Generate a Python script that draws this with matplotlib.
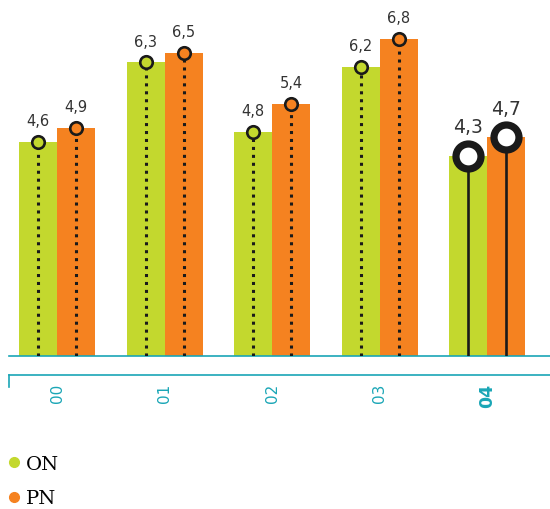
import matplotlib
matplotlib.use("Agg")
import matplotlib.pyplot as plt
from matplotlib.lines import Line2D
import numpy as np

categories = ["00", "01", "02", "03", "04"]
on_values = [4.6, 6.3, 4.8, 6.2, 4.3]
pn_values = [4.9, 6.5, 5.4, 6.8, 4.7]
series_names = ["ON", "PN"]

GREEN = "#c3d82e"
ORANGE = "#f58220"
TEAL = "#1aa6b6"
DARK = "#1a1a1a"

W, H = 550, 510
fig = plt.figure(figsize=(W / 100, H / 100), dpi=100)

# axes: left at x=9px, bottom at y=357px, to top/right
left_px, base_px = 9, 357
ax = fig.add_axes([left_px / W, (H - base_px) / H, 1 - left_px / W, base_px / H])

spacing = 107.5
c0 = 57
xlo = (left_px - c0) / spacing
xhi = (W - c0) / spacing
ax.set_xlim(xlo, xhi)
ax.set_ylim(0, base_px / 46.6)

bw = 38 / spacing
x = np.arange(len(categories))
ax.bar(x - bw / 2, on_values, width=bw, color=GREEN, linewidth=0)
ax.bar(x + bw / 2, pn_values, width=bw, color=ORANGE, linewidth=0)

n = len(categories)
for i in range(n):
    last = (i == n - 1)
    for off, vals, col in ((-bw / 2, on_values, GREEN), (bw / 2, pn_values, ORANGE)):
        xv = x[i] + off
        v = vals[i]
        if last:
            ax.plot([xv, xv], [0, v], color=DARK, lw=1.9, solid_capstyle="butt", zorder=3)
            ax.plot([xv], [v], marker="o", ms=18, mfc="white", mec=DARK, mew=5.2, zorder=4)
            ax.annotate(f"{v:.1f}".replace(".", ","), (xv, v), xytext=(0, 14),
                        textcoords="offset points", ha="center", va="bottom",
                        fontsize=13.5, color="#333333", zorder=5)
        else:
            ax.plot([xv, xv], [0, v], color=DARK, lw=2.2, linestyle=(0, (1, 1.6)), zorder=3)
            ax.plot([xv], [v], marker="o", ms=9, mfc=col, mec=DARK, mew=1.9, zorder=4)
            ax.annotate(f"{v:.1f}".replace(".", ","), (xv, v), xytext=(0, 10),
                        textcoords="offset points", ha="center", va="bottom",
                        fontsize=10.5, color="#333333", zorder=5)

for s in ["top", "right", "left"]:
    ax.spines[s].set_visible(False)
ax.spines["bottom"].set_color(TEAL)
ax.spines["bottom"].set_linewidth(1.2)
ax.set_yticks([])
ax.set_xticks(x)
ax.set_xticklabels(categories, rotation=90, color=TEAL, fontsize=11)
ax.tick_params(axis="x", length=0, pad=19)
for lbl in ax.get_xticklabels()[-1:]:
    lbl.set_fontweight("bold")
    lbl.set_fontsize(12.5)

# secondary bracket line
y2 = 1 - 376 / H
fig.add_artist(Line2D([left_px / W, 1], [y2, y2], color=TEAL, lw=1.2))
fig.add_artist(Line2D([left_px / W, left_px / W], [y2, 1 - 388 / H], color=TEAL, lw=1.2))

handles = [Line2D([], [], marker="o", ls="none", ms=7, mfc=GREEN, mec=GREEN),
           Line2D([], [], marker="o", ls="none", ms=7, mfc=ORANGE, mec=ORANGE)]
fig.legend(handles, series_names, loc="upper left", bbox_to_anchor=(2 / W, 1 - 454 / H),
           frameon=False, handletextpad=0.15, labelspacing=0.85, borderaxespad=0,
           borderpad=0.1, handlelength=1.0,
           prop={"family": "DejaVu Serif", "size": 14})

fig.savefig("out.png", dpi=100)
